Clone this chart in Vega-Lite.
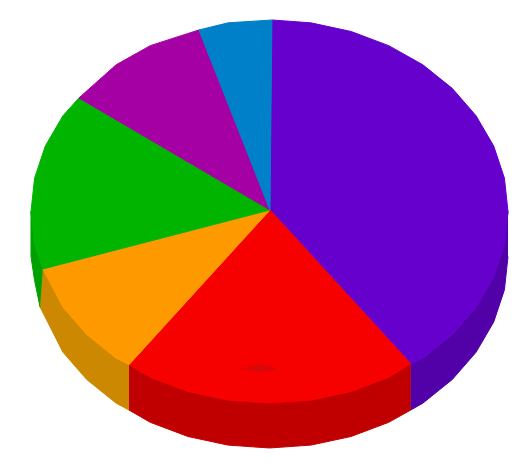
{
  "$schema": "https://vega.github.io/schema/vega-lite/v6.json",
  "width": 531,
  "height": 470,
  "autosize": {"type": "fit", "contains": "padding"},
  "padding": 0,
  "background": "white",
  "config": {"view": {"stroke": null}},
  "data": {
    "values": [
      {"slice": "Purple side", "i": 1, "x": 1, "y": 0},
      {"slice": "Purple side", "i": 2, "x": 0.985, "y": -0.174},
      {"slice": "Purple side", "i": 3, "x": 0.94, "y": -0.342},
      {"slice": "Purple side", "i": 4, "x": 0.866, "y": -0.5},
      {"slice": "Purple side", "i": 5, "x": 0.766, "y": -0.643},
      {"slice": "Purple side", "i": 6, "x": 0.643, "y": -0.766},
      {"slice": "Purple side", "i": 7, "x": 0.592, "y": -0.795},
      {"slice": "Purple side", "i": 8, "x": 0.592, "y": -1.037},
      {"slice": "Purple side", "i": 9, "x": 0.643, "y": -1.001},
      {"slice": "Purple side", "i": 10, "x": 0.766, "y": -0.878},
      {"slice": "Purple side", "i": 11, "x": 0.866, "y": -0.735},
      {"slice": "Purple side", "i": 12, "x": 0.94, "y": -0.577},
      {"slice": "Purple side", "i": 13, "x": 0.985, "y": -0.409},
      {"slice": "Purple side", "i": 14, "x": 1, "y": -0.235},

      {"slice": "Red side", "i": 1, "x": 0.592, "y": -0.795},
      {"slice": "Red side", "i": 2, "x": 0.5, "y": -0.866},
      {"slice": "Red side", "i": 3, "x": 0.342, "y": -0.94},
      {"slice": "Red side", "i": 4, "x": 0.174, "y": -0.985},
      {"slice": "Red side", "i": 5, "x": 0, "y": -1},
      {"slice": "Red side", "i": 6, "x": -0.174, "y": -0.985},
      {"slice": "Red side", "i": 7, "x": -0.342, "y": -0.94},
      {"slice": "Red side", "i": 8, "x": -0.5, "y": -0.866},
      {"slice": "Red side", "i": 9, "x": -0.589, "y": -0.8},
      {"slice": "Red side", "i": 10, "x": -0.589, "y": -1.037},
      {"slice": "Red side", "i": 11, "x": -0.5, "y": -1.101},
      {"slice": "Red side", "i": 12, "x": -0.342, "y": -1.175},
      {"slice": "Red side", "i": 13, "x": -0.174, "y": -1.22},
      {"slice": "Red side", "i": 14, "x": 0, "y": -1.235},
      {"slice": "Red side", "i": 15, "x": 0.174, "y": -1.22},
      {"slice": "Red side", "i": 16, "x": 0.342, "y": -1.175},
      {"slice": "Red side", "i": 17, "x": 0.5, "y": -1.101},
      {"slice": "Red side", "i": 18, "x": 0.592, "y": -1.037},

      {"slice": "Orange side", "i": 1, "x": -0.589, "y": -0.8},
      {"slice": "Orange side", "i": 2, "x": -0.643, "y": -0.766},
      {"slice": "Orange side", "i": 3, "x": -0.766, "y": -0.643},
      {"slice": "Orange side", "i": 4, "x": -0.866, "y": -0.5},
      {"slice": "Orange side", "i": 5, "x": -0.95, "y": -0.3},
      {"slice": "Orange side", "i": 6, "x": -0.962, "y": -0.499},
      {"slice": "Orange side", "i": 7, "x": -0.866, "y": -0.735},
      {"slice": "Orange side", "i": 8, "x": -0.766, "y": -0.878},
      {"slice": "Orange side", "i": 9, "x": -0.643, "y": -1.001},
      {"slice": "Orange side", "i": 10, "x": -0.589, "y": -1.037},

      {"slice": "Green side", "i": 1, "x": -0.95, "y": -0.3},
      {"slice": "Green side", "i": 2, "x": -0.985, "y": -0.174},
      {"slice": "Green side", "i": 3, "x": -1, "y": 0},
      {"slice": "Green side", "i": 4, "x": -1, "y": -0.235},
      {"slice": "Green side", "i": 5, "x": -0.985, "y": -0.36},
      {"slice": "Green side", "i": 6, "x": -0.962, "y": -0.499},

      {"slice": "Purple", "i": 1, "x": 0.002, "y": 0.008},
      {"slice": "Purple", "i": 2, "x": 0.01, "y": 1},
      {"slice": "Purple", "i": 3, "x": 0.174, "y": 0.985},
      {"slice": "Purple", "i": 4, "x": 0.342, "y": 0.94},
      {"slice": "Purple", "i": 5, "x": 0.5, "y": 0.866},
      {"slice": "Purple", "i": 6, "x": 0.643, "y": 0.766},
      {"slice": "Purple", "i": 7, "x": 0.766, "y": 0.643},
      {"slice": "Purple", "i": 8, "x": 0.866, "y": 0.5},
      {"slice": "Purple", "i": 9, "x": 0.94, "y": 0.342},
      {"slice": "Purple", "i": 10, "x": 0.985, "y": 0.174},
      {"slice": "Purple", "i": 11, "x": 1, "y": 0},
      {"slice": "Purple", "i": 12, "x": 0.985, "y": -0.174},
      {"slice": "Purple", "i": 13, "x": 0.94, "y": -0.342},
      {"slice": "Purple", "i": 14, "x": 0.866, "y": -0.5},
      {"slice": "Purple", "i": 15, "x": 0.766, "y": -0.643},
      {"slice": "Purple", "i": 16, "x": 0.643, "y": -0.766},
      {"slice": "Purple", "i": 17, "x": 0.592, "y": -0.795},
      {"slice": "Purple", "i": 18, "x": 0.002, "y": 0.008},

      {"slice": "Red", "i": 1, "x": 0.002, "y": 0.008},
      {"slice": "Red", "i": 2, "x": 0.592, "y": -0.795},
      {"slice": "Red", "i": 3, "x": 0.5, "y": -0.866},
      {"slice": "Red", "i": 4, "x": 0.342, "y": -0.94},
      {"slice": "Red", "i": 5, "x": 0.174, "y": -0.985},
      {"slice": "Red", "i": 6, "x": 0, "y": -1},
      {"slice": "Red", "i": 7, "x": -0.174, "y": -0.985},
      {"slice": "Red", "i": 8, "x": -0.342, "y": -0.94},
      {"slice": "Red", "i": 9, "x": -0.5, "y": -0.866},
      {"slice": "Red", "i": 10, "x": -0.589, "y": -0.8},
      {"slice": "Red", "i": 11, "x": 0.002, "y": 0.008},

      {"slice": "Orange", "i": 1, "x": 0.002, "y": 0.008},
      {"slice": "Orange", "i": 2, "x": -0.589, "y": -0.8},
      {"slice": "Orange", "i": 3, "x": -0.643, "y": -0.766},
      {"slice": "Orange", "i": 4, "x": -0.766, "y": -0.643},
      {"slice": "Orange", "i": 5, "x": -0.866, "y": -0.5},
      {"slice": "Orange", "i": 6, "x": -0.95, "y": -0.3},
      {"slice": "Orange", "i": 7, "x": 0.002, "y": 0.008},

      {"slice": "Green", "i": 1, "x": 0.002, "y": 0.008},
      {"slice": "Green", "i": 2, "x": -0.95, "y": -0.3},
      {"slice": "Green", "i": 3, "x": -0.985, "y": -0.174},
      {"slice": "Green", "i": 4, "x": -1, "y": 0},
      {"slice": "Green", "i": 5, "x": -0.985, "y": 0.174},
      {"slice": "Green", "i": 6, "x": -0.94, "y": 0.342},
      {"slice": "Green", "i": 7, "x": -0.866, "y": 0.5},
      {"slice": "Green", "i": 8, "x": -0.799, "y": 0.593},
      {"slice": "Green", "i": 9, "x": 0.002, "y": 0.008},

      {"slice": "Magenta", "i": 1, "x": 0.002, "y": 0.008},
      {"slice": "Magenta", "i": 2, "x": -0.799, "y": 0.593},
      {"slice": "Magenta", "i": 3, "x": -0.643, "y": 0.766},
      {"slice": "Magenta", "i": 4, "x": -0.5, "y": 0.866},
      {"slice": "Magenta", "i": 5, "x": -0.296, "y": 0.948},
      {"slice": "Magenta", "i": 6, "x": 0.002, "y": 0.008},

      {"slice": "Blue", "i": 1, "x": 0.002, "y": 0.008},
      {"slice": "Blue", "i": 2, "x": -0.296, "y": 0.948},
      {"slice": "Blue", "i": 3, "x": -0.174, "y": 0.985},
      {"slice": "Blue", "i": 4, "x": 0.01, "y": 1},
      {"slice": "Blue", "i": 5, "x": 0.002, "y": 0.008},

      {"slice": "Smudge", "i": 1, "x": -0.11, "y": -0.82},
      {"slice": "Smudge", "i": 2, "x": -0.04, "y": -0.8},
      {"slice": "Smudge", "i": 3, "x": 0.03, "y": -0.82},
      {"slice": "Smudge", "i": 4, "x": -0.04, "y": -0.84}
    ]
  },
  "mark": {"type": "line", "strokeWidth": 1, "strokeJoin": "round"},
  "encoding": {
    "x": {
      "field": "x",
      "type": "quantitative",
      "axis": null,
      "scale": {"domain": [-1.13, 1.0964], "nice": false, "zero": false}
    },
    "y": {
      "field": "y",
      "type": "quantitative",
      "axis": null,
      "scale": {"domain": [-1.35, 1.1044], "nice": false, "zero": false}
    },
    "color": {
      "field": "slice",
      "type": "nominal",
      "legend": null,
      "scale": {
        "domain": ["Purple side", "Red side", "Orange side", "Green side", "Purple", "Red", "Orange", "Green", "Magenta", "Blue", "Smudge"],
        "range": ["#5200a8", "#c00000", "#cc8800", "#00a000", "#6600cc", "#f70000", "#ff9900", "#00b400", "#a400a4", "#0080c8", "#d80808"]
      }
    },
    "fill": {
      "field": "slice",
      "type": "nominal",
      "legend": null,
      "scale": {
        "domain": ["Purple side", "Red side", "Orange side", "Green side", "Purple", "Red", "Orange", "Green", "Magenta", "Blue", "Smudge"],
        "range": ["#5200a8", "#c00000", "#cc8800", "#00a000", "#6600cc", "#f70000", "#ff9900", "#00b400", "#a400a4", "#0080c8", "#d80808"]
      }
    },
    "order": {"field": "i", "type": "ordinal"}
  }
}
